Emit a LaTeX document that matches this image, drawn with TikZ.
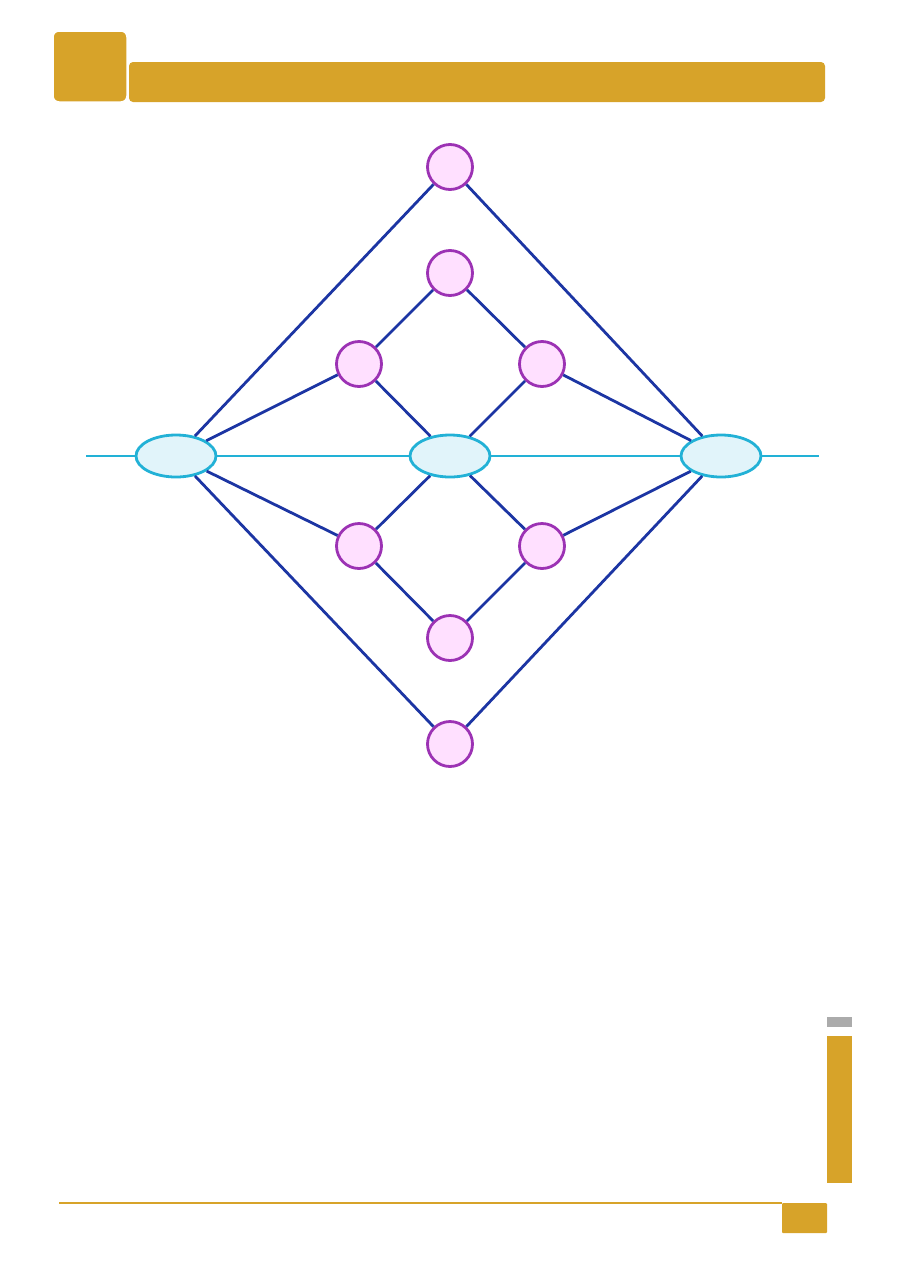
\documentclass[tikz,border=0pt]{standalone}
\usetikzlibrary{shapes.geometric}
\definecolor{gold}{HTML}{D7A329}
\definecolor{edgeblue}{HTML}{1C35A3}
\definecolor{cfill}{HTML}{FFE0FF}
\definecolor{cdraw}{HTML}{9C32B4}
\definecolor{efill}{HTML}{E1F4FA}
\definecolor{edraw}{HTML}{22B1D6}
\definecolor{greybar}{HTML}{ABABAB}
\begin{document}
\begin{tikzpicture}[x=1pt,y=-1pt,
  cnode/.style={circle,draw=cdraw,fill=cfill,line width=2.8pt,minimum size=45pt,inner sep=0pt},
  enode/.style={ellipse,draw=edraw,fill=efill,line width=2.8pt,minimum width=80pt,minimum height=42pt,inner sep=0pt},
  edge/.style={draw=edgeblue,line width=2.8pt},
  axis/.style={draw=edraw,line width=1.6pt}]
\useasboundingbox (0,0) rectangle (905,1280);
% header
\fill[gold,rounded corners=4pt] (129,62) rectangle (825,102);
\fill[gold,draw=white,line width=1.5pt,rounded corners=6pt] (53,31) rectangle (127,102);
% side bars and footer
\fill[greybar] (827,1017) rectangle (852,1027);
\fill[gold] (827,1036) rectangle (852,1183);
\fill[gold,rounded corners=1pt] (782,1203) rectangle (827,1233);
\draw[gold,line width=1.5pt] (59,1203) -- (782,1203);
% axis coordinates
\coordinate (axL) at (86,456);
\coordinate (axR) at (819,456);
% nodes
\node[enode] (L) at (176,456) {};
\node[enode] (C) at (450,456) {};
\node[enode] (R) at (721,456) {};
\node[cnode] (T) at (450,167) {};
\node[cnode] (T2) at (450,273) {};
\node[cnode] (UL) at (359,364) {};
\node[cnode] (UR) at (542,364) {};
\node[cnode] (DL) at (359,546) {};
\node[cnode] (DR) at (542,546) {};
\node[cnode] (B2) at (450,638) {};
\node[cnode] (B) at (450,744) {};
% axis line
\draw[axis] (axL) -- (L) -- (C) -- (R) -- (axR);
% edges
\draw[edge] (L) -- (T);
\draw[edge] (L) -- (B);
\draw[edge] (L) -- (UL);
\draw[edge] (L) -- (DL);
\draw[edge] (R) -- (T);
\draw[edge] (R) -- (B);
\draw[edge] (R) -- (UR);
\draw[edge] (R) -- (DR);
\draw[edge] (C) -- (UL);
\draw[edge] (C) -- (UR);
\draw[edge] (C) -- (DL);
\draw[edge] (C) -- (DR);
\draw[edge] (T2) -- (UL);
\draw[edge] (T2) -- (UR);
\draw[edge] (B2) -- (DL);
\draw[edge] (B2) -- (DR);
\end{tikzpicture}
\end{document}
